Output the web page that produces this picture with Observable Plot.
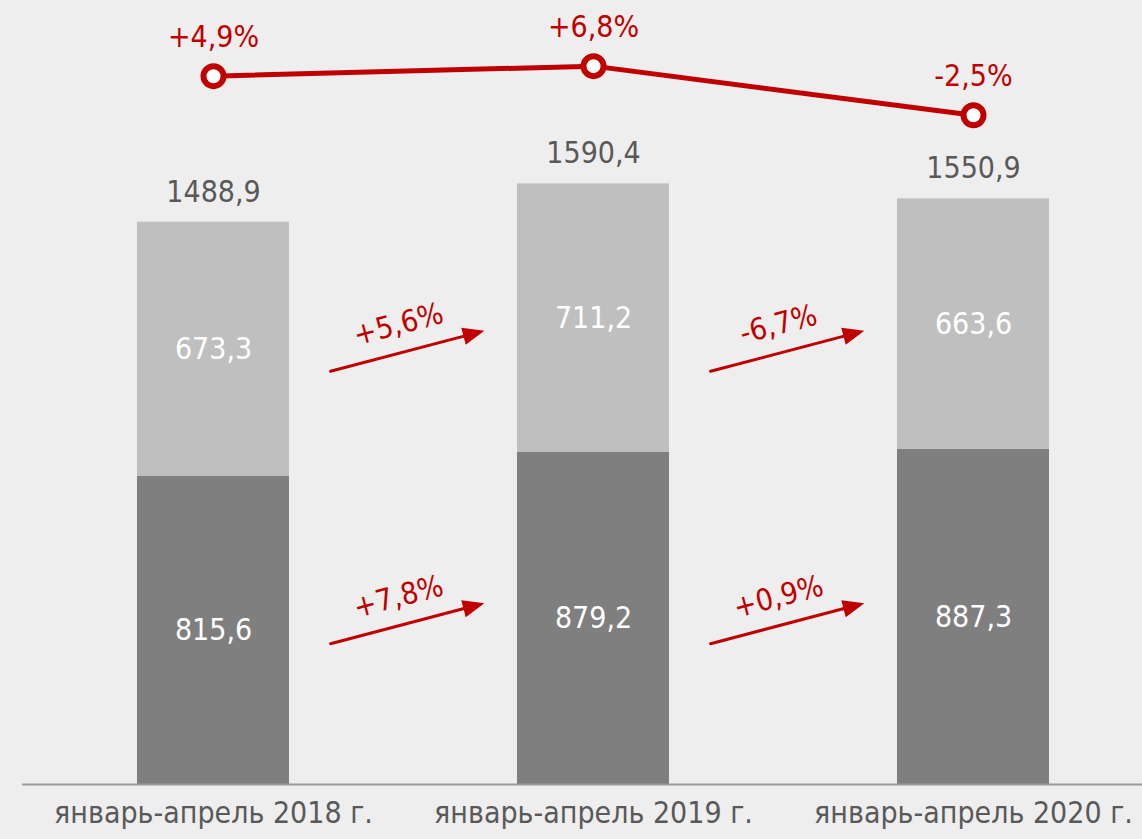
<!DOCTYPE html>
<html><head><meta charset="utf-8">
<script src="https://cdn.jsdelivr.net/npm/d3@7"></script>
<script src="https://cdn.jsdelivr.net/npm/@observablehq/plot@0.6"></script>
<style>html,body{margin:0;padding:0;background:#eeeeee;overflow:hidden;}</style>
</head><body><div id="chart"></div>
<script>
// ---- data ----
const periods = ["январь-апрель 2018 г.", "январь-апрель 2019 г.", "январь-апрель 2020 г."];
const bottomValues = [815.6, 879.2, 887.3];
const topValues = [673.3, 711.2, 663.6];
const totalValues = [1488.9, 1590.4, 1550.9];
const totalChange = [4.9, 6.8, -2.5];
const bottomChange = [7.8, 0.9];
const topChange = [5.6, -6.7];

// ---- styles ----
const RED = "#c00000";
const TEXT = "#595959";
const FONT = 30;
const lineBase = 1807, lineScale = 14; // places the change line in the band above the bars

const fmt = v => v.toFixed(1).replace(".", ",");
const pct = v => (v > 0 ? "+" : "") + fmt(v) + "%";

const segments = periods.flatMap((p, i) => [
  {period: p, part: "bottom", value: bottomValues[i]},
  {period: p, part: "top", value: topValues[i]}
]);
const totals = periods.map((p, i) => ({period: p, total: totalValues[i], change: totalChange[i]}));

const mid = (part, i) => part === "bottom" ? bottomValues[i] / 2 : bottomValues[i] + topValues[i] / 2;
const meanMid = part => d3.mean(periods, (p, i) => mid(part, i));
const arrows = [
  ...bottomChange.map((c, i) => ({from: periods[i], part: "bottom", change: c, y: meanMid("bottom")})),
  ...topChange.map((c, i) => ({from: periods[i], part: "top", change: c, y: meanMid("top")}))
];
const rowDy = {bottom: 2, top: 21};

const angle = 14.76;
const arrowShape = {
  draw(ctx, l) {
    const h = 16, w = 6.5;
    ctx.moveTo(0, 0);
    ctx.lineTo(0, -l + h);
    ctx.moveTo(0, -l);
    ctx.lineTo(w, -l + h);
    ctx.lineTo(-w, -l + h);
    ctx.closePath();
  }
};

const arrowMarks = ["bottom", "top"].flatMap(part => {
  const rows = arrows.filter(d => d.part === part);
  return [
    Plot.vector(rows, {x: "from", y: "y", dx: 192, dy: rowDy[part], length: 155, rotate: 90 - angle,
      anchor: "middle", shape: arrowShape, stroke: RED, fill: RED, strokeWidth: 3, strokeLinejoin: "miter"}),
    Plot.text(rows, {x: "from", y: "y", text: d => pct(d.change), dx: 192 - 7, dy: rowDy[part] - 27,
      rotate: -angle, fill: RED, fontSize: FONT})
  ];
});

const chart = Plot.plot({
  width: 1142,
  height: 839,
  marginTop: 0,
  marginBottom: 55,
  marginLeft: 22,
  marginRight: 0,
  style: {fontFamily: "'DejaVu Sans Condensed', 'DejaVu Sans', sans-serif", background: "#eeeeee", overflow: "visible"},
  x: {domain: periods, range: [22, 1164], paddingInner: 0.6, paddingOuter: 0.3, axis: null},
  y: {domain: [0, 2076], axis: null},
  color: {domain: ["bottom", "top"], range: ["#7f7f7f", "#bfbfbf"]},
  marks: [
    Plot.barY(segments, {x: "period", y: "value", fill: "part"}),
    Plot.text(segments, Plot.stackY({x: "period", y: "value", z: "part", text: d => fmt(d.value), fill: "white", fontSize: FONT})),
    Plot.text(totals, {x: "period", y: "total", text: d => fmt(d.total), dy: -30, fill: TEXT, fontSize: FONT}),
    Plot.ruleY([0], {stroke: "#9a9a9a", strokeWidth: 2}),
    Plot.text(periods, {x: d => d, frameAnchor: "bottom", dy: 38, fill: TEXT, fontSize: FONT}),
    Plot.line(totals, {x: "period", y: d => lineBase + lineScale * d.change, stroke: RED, strokeWidth: 5}),
    Plot.dot(totals, {x: "period", y: d => lineBase + lineScale * d.change, r: 10, fill: "white", stroke: RED, strokeWidth: 6}),
    Plot.text(totals, {x: "period", y: d => lineBase + lineScale * d.change, text: d => pct(d.change), dy: -39, fill: RED, fontSize: FONT}),
    ...arrowMarks
  ]
});
document.getElementById("chart").append(chart);
</script>
</body></html>
